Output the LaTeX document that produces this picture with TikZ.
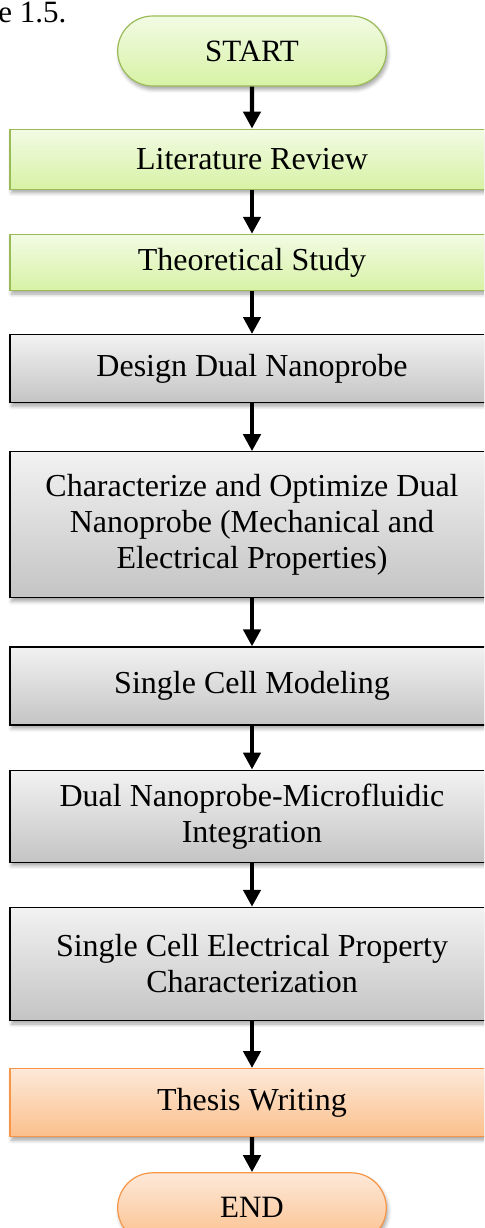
\documentclass[tikz,border=0pt]{standalone}
\usepackage{fontspec}
\setmainfont{Liberation Serif}
\usetikzlibrary{arrows.meta,positioning,shapes.misc,shadows.blur}
\definecolor{greenline}{HTML}{9BBB59}
\definecolor{greentop}{HTML}{F2FBE4}
\definecolor{greenbot}{HTML}{D7F2A5}
\definecolor{graytop}{HTML}{F2F2F2}
\definecolor{graybot}{HTML}{C4C4C4}
\definecolor{orangeline}{HTML}{F79646}
\definecolor{orangetop}{HTML}{FDE9D9}
\definecolor{orangebot}{HTML}{FBC08C}

\begin{document}
\begin{tikzpicture}[
  box/.style={draw, line width=0.6pt, minimum width=242pt, align=center, font=\fontsize{16}{18}\selectfont,
    blur shadow={shadow xshift=0.8pt, shadow yshift=-1.8pt, shadow blur steps=5, shadow opacity=35}},
  greenbox/.style={box, draw=greenline, top color=greentop, bottom color=greenbot},
  graybox/.style={box, draw=black, top color=graytop, bottom color=graybot},
  orangebox/.style={box, draw=orangeline, top color=orangetop, bottom color=orangebot},
  term/.style={rounded rectangle, draw, line width=0.6pt, minimum width=141pt, minimum height=35pt, font=\fontsize{15.5}{18}\selectfont,
    blur shadow={shadow xshift=0.8pt, shadow yshift=-1.8pt, shadow blur steps=5, shadow opacity=35}},
  arr/.style={-{Triangle[width=8.5pt,length=8.5pt]}, line width=2.2pt}]
\useasboundingbox (0,0) rectangle (242pt,-614pt);
\clip (0,0) rectangle (242pt,-614pt);
\node[anchor=base west, inner sep=0, font=\fontsize{15.5}{18}\selectfont] (fig) at (-1pt,-11pt) {e 1.5.};
\node[term, draw=greenline, top color=greentop, bottom color=greenbot] (start) at (126pt,-25.5pt) {START};
\node[greenbox, minimum height=30pt, below=21pt of start] (lit) {Literature Review};
\node[greenbox, minimum height=28pt, below=22pt of lit] (theo) {Theoretical Study};
\node[graybox, minimum height=34pt, below=21.5pt of theo] (design) {Design Dual Nanoprobe};
\node[graybox, minimum height=73pt, below=24pt of design] (charopt) {Characterize and Optimize Dual\\Nanoprobe (Mechanical and\\Electrical Properties)};
\node[graybox, minimum height=39pt, below=24pt of charopt] (model) {Single Cell Modeling};
\node[graybox, minimum height=46pt, below=22pt of model] (integ) {Dual Nanoprobe-Microfluidic\\Integration};
\node[graybox, minimum height=56.5pt, below=22pt of integ] (elec) {Single Cell Electrical Property\\Characterization};
\node[orangebox, minimum height=34pt, below=23.5pt of elec] (thesis) {Thesis Writing};
\node[term, draw=orangeline, top color=orangetop, bottom color=orangebot, below=17.5pt of thesis] (finish) {END};
% arrows
\foreach \a/\b in {start/lit, lit/theo, theo/design, design/charopt, charopt/model, model/integ, integ/elec, elec/thesis, thesis/finish}
  \draw[arr] (\a) -- (\b);
\end{tikzpicture}
\end{document}
